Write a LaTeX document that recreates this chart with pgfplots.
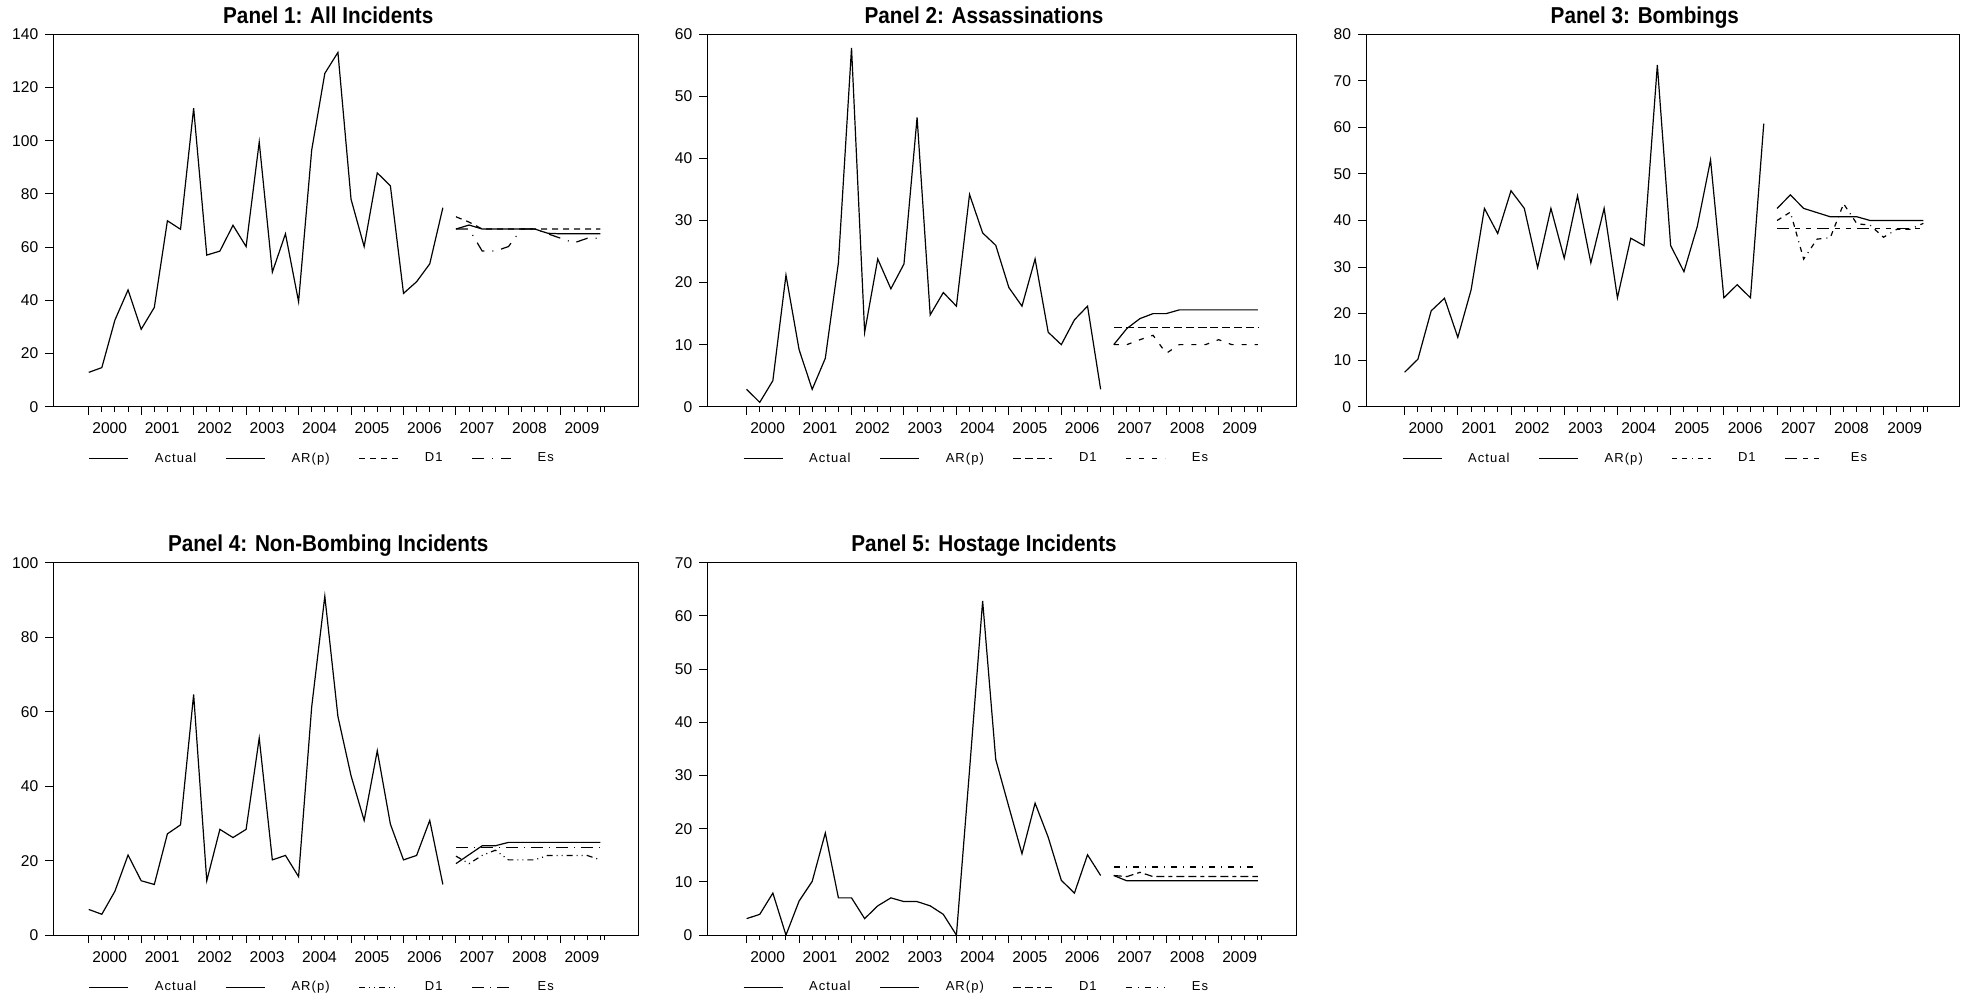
\documentclass[border=0pt]{standalone}
\usepackage{fontspec}
\setmainfont{Liberation Sans}
\newfontfamily\titlefont[FakeStretch=0.9]{Liberation Sans}
\newfontfamily\legfont[LetterSpace=8]{Liberation Sans}
\usepackage{pgfplots}
\pgfplotsset{compat=1.18}
\tikzset{pl/.style={black, line width=0.6pt, mark=none}}
\pgfplotsset{
 panel/.style={
  scale only axis, height=186.2pt, ymin=0,
  axis line style={line width=0.5pt},
  every tick/.style={black, line width=0.5pt},
  tick align=outside,
  xtick pos=lower, ytick pos=left,
  xtick={0,4,...,36}, xticklabels={},
  minor xtick={0,1,...,39,39.3},
  major tick length=4pt, minor tick length=2.5pt,
  extra x ticks={1.6,5.6,...,37.6},
  extra x tick labels={2000,2001,2002,2003,2004,2005,2006,2007,2008,2009},
  extra x tick style={major tick length=0pt, xticklabel style={yshift=-4.6pt}},
  /pgf/number format/assume math mode=true,
  tick label style={font=\fontsize{7.8}{9}\selectfont},
  title style={font=\titlefont\bfseries\fontsize{11.5}{13}\selectfont, at={(0.47,1)}, anchor=base, yshift=-0.5pt},
  legend columns=4,
  legend style={draw=none, fill=none, at={(0.06,-0.14)}, anchor=west, inner sep=0pt,
    font=\legfont\fontsize{6.5}{8}\selectfont, nodes={inner sep=0pt},
    /tikz/every odd column/.append style={column sep=13pt},
    /tikz/every even column/.append style={column sep=14.5pt}},
  legend image code/.code={\draw[#1] (0pt,0pt) -- (19.5pt,0pt);},
 }
}
\begin{document}
\begin{tikzpicture}
\useasboundingbox (0,0) rectangle (984.5pt,-499pt);

% Panel 1
\begin{axis}[panel, at={(26.65pt,-17.15pt)}, anchor=north west, width=292.5pt,
  xmin=-2.7, xmax=41.9, ymax=140, ytick={0,20,...,140},
  title={Panel 1: All Incidents}]
\addplot[pl] coordinates {(0,12.9)(1,14.7)(2,32.6)(3,43.9)(4,29.1)(5,37.3)(6,69.9)(7,66.7)(8,112.2)(9,57)(10,58.5)(11,68.2)(12,60.2)(13,99.5)(14,50.6)(15,65)(16,39.5)(17,96.5)(18,125.3)(19,133.2)(20,78)(21,60.2)(22,87.9)(23,83)(24,42.6)(25,47)(26,53.7)(27,74.8)};
\addlegendentry{Actual}
\addplot[pl] coordinates {(28,66.8)(29,68.3)(30,66.8)(31,66.8)(32,66.8)(33,66.8)(34,66.8)(35,65.2)(36,65)(37,65)(38,65)(39,65)};
\addlegendentry{AR(p)}
\addplot[pl, dash pattern=on 3pt off 2.5pt] coordinates {(28,71.4)(29,69.4)(30,66.8)(31,66.8)(32,66.8)(33,66.8)(34,66.8)(35,66.8)(36,66.8)(37,66.8)(38,66.8)(39,66.8)};
\addlegendentry{D1}
\addplot[pl, dash pattern=on 6pt off 4pt on 0.5pt off 4pt] coordinates {(28,66.8)(29,66.8)(30,58.5)(31,58.5)(32,60.2)(33,66.8)(34,66.8)(35,65.0)(36,63.3)(37,61.6)(38,63.3)(39,63.3)};
\addlegendentry{Es}
\end{axis}

% Panel 2
\begin{axis}[panel, at={(353.65pt,-17.15pt)}, anchor=north west, width=294.35pt,
  xmin=-3.0, xmax=41.9, ymax=60, ytick={0,10,...,60},
  title={Panel 2: Assassinations}]
\addplot[pl] coordinates {(0,2.8)(1,0.7)(2,4.2)(3,21.2)(4,9.2)(5,2.8)(6,7.8)(7,23.2)(8,57.8)(9,12.0)(10,23.8)(11,19.0)(12,23.0)(13,46.6)(14,14.8)(15,18.4)(16,16.2)(17,34.2)(18,28.0)(19,26.0)(20,19.2)(21,16.2)(22,23.8)(23,12.0)(24,10.0)(25,14.0)(26,16.2)(27,2.8)};
\addlegendentry{Actual}
\addplot[pl] coordinates {(28,10)(29,12.6)(30,14.2)(31,15)(32,15)(33,15.6)(34,15.6)(35,15.6)(36,15.6)(37,15.6)(38,15.6)(39,15.6)};
\addlegendentry{AR(p)}
\addplot[pl, dash pattern=on 4pt off 2pt] coordinates {(28,12.8)(29,12.8)(30,12.8)(31,12.8)(32,12.8)(33,12.8)(34,12.8)(35,12.8)(36,12.8)(37,12.8)(38,12.8)(39,12.8)};
\addlegendentry{D1}
\addplot[pl, dash pattern=on 2.5pt off 4pt] coordinates {(28,10)(29,10)(30,10.8)(31,11.5)(32,8.6)(33,10)(34,10)(35,10)(36,10.8)(37,10)(38,10)(39,10)};
\addlegendentry{Es}
\end{axis}

% Panel 3
\begin{axis}[panel, at={(683pt,-17.15pt)}, anchor=north west, width=296.65pt,
  xmin=-2.9, xmax=41.7, ymax=80, ytick={0,10,...,80},
  title={Panel 3: Bombings}]
\addplot[pl] coordinates {(0,7.4)(1,10.2)(2,20.6)(3,23.3)(4,14.9)(5,25.1)(6,42.6)(7,37.2)(8,46.4)(9,42.6)(10,29.9)(11,42.6)(12,31.9)(13,45.3)(14,30.9)(15,42.6)(16,23.4)(17,36.2)(18,34.6)(19,73.4)(20,34.6)(21,29.0)(22,38.7)(23,53.0)(24,23.4)(25,26.2)(26,23.4)(27,60.8)};
\addlegendentry{Actual}
\addplot[pl] coordinates {(28,42.6)(29,45.5)(30,42.6)(31,41.7)(32,40.8)(33,40.8)(34,40.8)(35,40)(36,40)(37,40)(38,40)(39,40)};
\addlegendentry{AR(p)}
\addplot[pl, dash pattern=on 2.5pt off 2.5pt on 2.5pt off 2.5pt on 0.5pt off 2.5pt] coordinates {(28,40)(29,41.8)(30,31.7)(31,36)(32,36.3)(33,43.6)(34,39.3)(35,39.0)(36,36.4)(37,38.1)(38,38.1)(39,39.4)};
\addlegendentry{D1}
\addplot[pl, dash pattern=on 6pt off 3pt on 2.5pt off 3pt on 2.5pt off 3pt] coordinates {(28,38.2)(29,38.2)(30,38.2)(31,38.2)(32,38.2)(33,38.2)(34,38.2)(35,38.2)(36,38.2)(37,38.2)(38,38.2)(39,38.2)};
\addlegendentry{Es}
\end{axis}

% Panel 4
\begin{axis}[panel, at={(26.65pt,-281.35pt)}, anchor=north west, width=292.5pt,
  xmin=-2.7, xmax=41.9, ymax=100, ytick={0,20,...,100},
  title={Panel 4: Non-Bombing Incidents}]
\addplot[pl] coordinates {(0,6.9)(1,5.6)(2,11.8)(3,21.5)(4,14.6)(5,13.6)(6,27.2)(7,29.6)(8,64.6)(9,14.6)(10,28.4)(11,26.2)(12,28.4)(13,52.9)(14,20.2)(15,21.4)(16,15.7)(17,61.3)(18,91.0)(19,58.7)(20,42.8)(21,30.8)(22,49.5)(23,29.8)(24,20.2)(25,21.4)(26,30.8)(27,13.6)};
\addlegendentry{Actual}
\addplot[pl] coordinates {(28,19.2)(29,21.6)(30,24.0)(31,24.0)(32,24.9)(33,24.9)(34,24.9)(35,24.9)(36,24.9)(37,24.9)(38,24.9)(39,24.9)};
\addlegendentry{AR(p)}
\addplot[pl, dash pattern=on 3pt off 2pt on 0.5pt off 2pt on 0.5pt off 2pt] coordinates {(28,21.2)(29,19.2)(30,21.4)(31,22.8)(32,20.2)(33,20.2)(34,20.2)(35,21.4)(36,21.4)(37,21.4)(38,21.4)(39,20.2)};
\addlegendentry{D1}
\addplot[pl, dash pattern=on 6pt off 3pt on 0.5pt off 3pt] coordinates {(28,23.6)(29,23.6)(30,23.6)(31,23.6)(32,23.6)(33,23.6)(34,23.6)(35,23.6)(36,23.6)(37,23.6)(38,23.6)(39,23.6)};
\addlegendentry{Es}
\end{axis}

% Panel 5
\begin{axis}[panel, at={(353.65pt,-281.35pt)}, anchor=north west, width=294.35pt,
  xmin=-3.0, xmax=41.9, ymax=70, ytick={0,10,...,70},
  title={Panel 5: Hostage Incidents}]
\addplot[pl] coordinates {(0,3.1)(1,3.9)(2,7.9)(3,0)(4,6.4)(5,10.1)(6,19.2)(7,7.0)(8,7.0)(9,3.1)(10,5.5)(11,7.0)(12,6.3)(13,6.3)(14,5.5)(15,3.9)(16,0)(17,31)(18,62.8)(19,33.0)(20,24.1)(21,15.3)(22,24.8)(23,18.4)(24,10.3)(25,7.9)(26,15.1)(27,11.2)};
\addlegendentry{Actual}
\addplot[pl] coordinates {(28,11.2)(29,10.2)(30,10.2)(31,10.2)(32,10.2)(33,10.2)(34,10.2)(35,10.2)(36,10.2)(37,10.2)(38,10.2)(39,10.2)};
\addlegendentry{AR(p)}
\addplot[pl, dash pattern=on 4pt off 2pt on 4pt off 2pt on 2pt off 2pt] coordinates {(28,11.2)(29,11.0)(30,11.8)(31,11.0)(32,11.0)(33,11.0)(34,11.0)(35,11.0)(36,11.0)(37,11.0)(38,11.0)(39,11.0)};
\addlegendentry{D1}
\addplot[pl, dash pattern=on 3pt off 3pt on 0.5pt off 3pt] coordinates {(28,12.8)(29,12.8)(30,12.8)(31,12.8)(32,12.8)(33,12.8)(34,12.8)(35,12.8)(36,12.8)(37,12.8)(38,12.8)(39,12.8)};
\addlegendentry{Es}
\end{axis}
\end{tikzpicture}
\end{document}
